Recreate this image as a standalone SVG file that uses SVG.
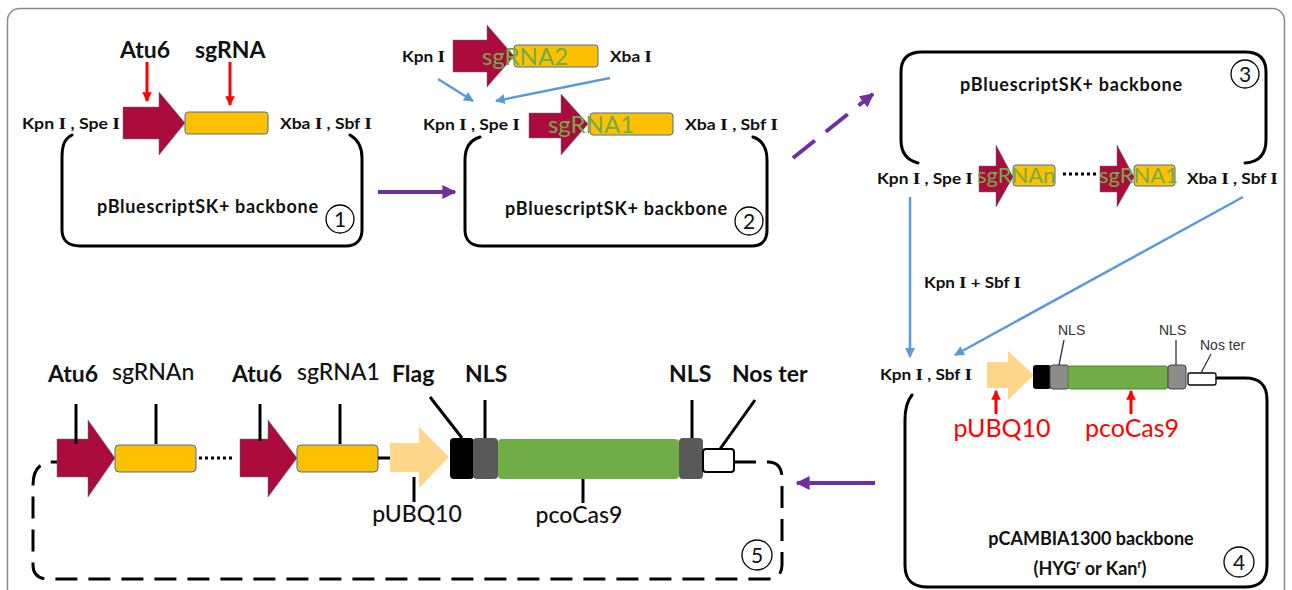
<svg xmlns="http://www.w3.org/2000/svg" width="1292" height="590" viewBox="0 0 1292 590">
  <style>
    text { font-family: Lato, "Liberation Sans", sans-serif; fill: #111; }
    .site { font-size: 15px; font-weight: bold; }
    .roman { font-family: "Liberation Serif", serif; font-weight: bold; font-size: 17px; }
    .bb { font-size: 18px; font-weight: bold; }
    .lbl { font-size: 23px; font-weight: bold; }
    .lblr { font-size: 23px; font-weight: 500; }
    .grn { font-size: 24px; fill: #70AD47; }
    .grn-s { font-size: 22px; fill: #70AD47; }
    .red { font-size: 25px; fill: #FF0000; }
    .tiny { font-family: "Liberation Sans", sans-serif; font-size: 14px; fill: #333; }
    .num { font-size: 21px; text-anchor: middle; }
    .bracket { fill: none; stroke: #000; stroke-width: 3; stroke-linecap: round; }
    .dashed { fill: none; stroke: #000; stroke-width: 3; stroke-dasharray: 22 11; }
    .leader { stroke: #000; stroke-width: 3; }
    .leader-s { stroke: #333; stroke-width: 1.3; }
    .u6 { fill: #AC0C3C; stroke: #41719C; stroke-width: 0.5; }
    .sg { fill: #FFC000; stroke: #41719C; stroke-width: 1; }
    .ubq { fill: #FFD68A; }
    .circ { fill: none; stroke: #000; stroke-width: 1.3; }
    .blue { stroke: #5B9BD5; stroke-width: 2.5; fill: none; }
    .purple { stroke: #7030A0; stroke-width: 4; fill: none; }
    .redln { stroke: #FF0000; stroke-width: 3; fill: none; }
  </style>
  <defs>
    <marker id="mBlue" viewBox="0 0 10 10" refX="9" refY="5" markerWidth="4" markerHeight="4" orient="auto">
      <path d="M0,0 L10,5 L0,10 Z" fill="#5B9BD5"/>
    </marker>
    <marker id="mPurple" viewBox="0 0 10 10" refX="9" refY="5" markerWidth="3.5" markerHeight="3.5" orient="auto">
      <path d="M0,0 L10,5 L0,10 Z" fill="#7030A0"/>
    </marker>
    <marker id="mRed" viewBox="0 0 10 10" refX="9" refY="5" markerWidth="3.2" markerHeight="3.2" orient="auto">
      <path d="M0,0 L10,5 L0,10 Z" fill="#FF0000"/>
    </marker>
  </defs>

  <rect width="1292" height="590" fill="#fff"/>
  <!-- outer frame -->
  <rect x="7.5" y="8.5" width="1277" height="620" rx="12" fill="none" stroke="#8a8a8a" stroke-width="1.5"/>

  <!-- step 1: single sgRNA cassette in pBluescript -->
  <g id="step1">
    <text class="lbl" x="120" y="58">Atu6</text>
    <text class="lbl" x="195" y="58">sgRNA</text>
    <line class="redln" x1="147" y1="62" x2="147" y2="101" marker-end="url(#mRed)"/>
    <line class="redln" x1="230" y1="62" x2="230" y2="105" marker-end="url(#mRed)"/>
    <path class="u6" d="M123,107 H159 V92 L185,123 L159,155 V139 H123 Z"/>
    <rect class="sg" x="185" y="112" width="83" height="22" rx="3"/>
    <text class="site" x="22" y="129" textLength="98" lengthAdjust="spacingAndGlyphs">Kpn <tspan class="roman">I</tspan> , Spe <tspan class="roman">I</tspan></text>
    <text class="site" x="280" y="129" textLength="92" lengthAdjust="spacingAndGlyphs">Xba <tspan class="roman">I</tspan> , Sbf <tspan class="roman">I</tspan></text>
    <path class="bracket" d="M72,135 C64,139 62,146 62,158 V230 C62,240 68,246 80,246 H346 C356,246 362,240 362,230 V158 C362,146 357,139 350,135"/>
    <text class="bb" x="97" y="213" textLength="221">pBluescriptSK+ backbone</text>
    <circle class="circ" cx="340" cy="219" r="14"/>
    <text class="num" x="340" y="227">1</text>
  </g>

  <!-- step 2: second sgRNA cassette inserted -->
  <g id="step2">
    <text class="site" x="402" y="62" textLength="43" lengthAdjust="spacingAndGlyphs">Kpn <tspan class="roman">I</tspan></text>
    <path class="u6" d="M453,40 H487 V25 L514,56 L487,87 V72 H453 Z"/>
    <rect class="sg" x="514" y="45" width="84" height="22" rx="3"/>
    <text class="grn" x="482" y="65">sgRNA2</text>
    <text class="site" x="610" y="62" textLength="42" lengthAdjust="spacingAndGlyphs">Xba <tspan class="roman">I</tspan></text>
    <text class="site" x="423" y="130" textLength="97" lengthAdjust="spacingAndGlyphs">Kpn <tspan class="roman">I</tspan> , Spe <tspan class="roman">I</tspan></text>
    <path class="u6" d="M529,113 H561 V94 L588,124 L561,155 V138 H529 Z"/>
    <rect class="sg" x="590" y="113" width="83" height="22" rx="3"/>
    <text class="grn" x="548" y="133">sgRNA1</text>
    <text class="site" x="685" y="130" textLength="93" lengthAdjust="spacingAndGlyphs">Xba <tspan class="roman">I</tspan> , Sbf <tspan class="roman">I</tspan></text>
    <path class="bracket" d="M480,137 C470,140 465,148 465,160 V230 C465,240 471,246 482,246 H752 C762,246 767,240 767,230 V160 C767,148 762,140 753,137"/>
    <text class="bb" x="505" y="215" textLength="222">pBluescriptSK+ backbone</text>
    <circle class="circ" cx="749" cy="221" r="14"/>
    <text class="num" x="749" y="229">2</text>
  </g>

  <!-- step 3: multiplex sgRNA array -->
  <g id="step3">
    <path class="bracket" d="M918,163 C906,160 901,152 901,140 V72 C901,59 908,52 922,52 H1245 C1259,52 1266,59 1266,72 V140 C1266,154 1260,162 1245,163"/>
    <text class="bb" x="960" y="91" textLength="222">pBluescriptSK+ backbone</text>
    <circle class="circ" cx="1245" cy="74" r="14"/>
    <text class="num" x="1245" y="82">3</text>
    <text class="site" x="877" y="184" textLength="96" lengthAdjust="spacingAndGlyphs">Kpn <tspan class="roman">I</tspan> , Spe <tspan class="roman">I</tspan></text>
    <path class="u6" d="M979,166 H996 V145 L1013,177 L996,207 V192 H979 Z"/>
    <rect class="sg" x="1013" y="165" width="42" height="21" rx="3"/>
    <text class="grn-s" x="977" y="183">sgRNAn</text>
    <line x1="1063" y1="174" x2="1097" y2="174" stroke="#000" stroke-width="3" stroke-dasharray="3 3"/>
    <path class="u6" d="M1100,166 H1117 V145 L1134,177 L1117,207 V192 H1100 Z"/>
    <rect class="sg" x="1134" y="165" width="41" height="21" rx="3"/>
    <text class="grn-s" x="1099" y="183">sgRNA1</text>
    <text class="site" x="1187" y="184" textLength="91" lengthAdjust="spacingAndGlyphs">Xba <tspan class="roman">I</tspan> , Sbf <tspan class="roman">I</tspan></text>
  </g>

  <!-- step 4: Cas9 binary vector -->
  <g id="step4">
    <text class="site" x="880" y="380" textLength="92" lengthAdjust="spacingAndGlyphs">Kpn <tspan class="roman">I</tspan> , Sbf <tspan class="roman">I</tspan></text>
    <path class="ubq" d="M987,362 H1008 V351 L1034,375 L1008,400 V388 H987 Z"/>
    <rect x="1033" y="365" width="18" height="24" rx="3" fill="#000"/>
    <rect x="1050" y="365" width="19" height="24" rx="3" fill="#8c8c8c" stroke="#444" stroke-width="1"/>
    <rect x="1068" y="366" width="100" height="23" rx="3" fill="#70AD47" stroke="#507e33" stroke-width="1"/>
    <rect x="1168" y="365" width="18" height="24" rx="3" fill="#8c8c8c" stroke="#444" stroke-width="1"/>
    <rect x="1188" y="373" width="28" height="12" rx="2" fill="#fff" stroke="#000" stroke-width="1.3"/>
    <text class="tiny" x="1058" y="335">NLS</text>
    <line class="leader-s" x1="1064" y1="340" x2="1059" y2="365"/>
    <text class="tiny" x="1159" y="335">NLS</text>
    <line class="leader-s" x1="1176" y1="340" x2="1176" y2="365"/>
    <text class="tiny" x="1200" y="350">Nos ter</text>
    <line class="leader-s" x1="1211" y1="354" x2="1201" y2="373"/>
    <path class="bracket" d="M912,395 C907,401 905,410 905,420 V565 C905,580 912,587 928,587 H1245 C1260,587 1267,580 1267,565 V400 C1267,385 1260,378 1245,378 H1217"/>
    <line class="redln" x1="996" y1="414" x2="996" y2="391" marker-end="url(#mRed)"/>
    <line class="redln" x1="1131" y1="414" x2="1131" y2="391" marker-end="url(#mRed)"/>
    <text class="red" x="1002" y="437" text-anchor="middle">pUBQ10</text>
    <text class="red" x="1132" y="437" text-anchor="middle">pcoCas9</text>
    <text class="bb" x="1091" y="545" text-anchor="middle">pCAMBIA1300 backbone</text>
    <text class="bb" x="1090" y="575" text-anchor="middle">(HYG<tspan font-size="11" dy="-7">r</tspan><tspan dy="7"> or Kan</tspan><tspan font-size="11" dy="-7">r</tspan><tspan dy="7">)</tspan></text>
    <circle class="circ" cx="1239" cy="562" r="15"/>
    <text class="num" x="1239" y="570">4</text>
  </g>

  <!-- step 5: final multiplex CRISPR/Cas9 construct -->
  <g id="step5">
    <text class="lbl" x="48" y="382">Atu6</text>
    <text class="lblr" x="112" y="380">sgRNAn</text>
    <text class="lbl" x="232" y="382">Atu6</text>
    <text class="lblr" x="297" y="380">sgRNA1</text>
    <text class="lbl" x="392" y="382">Flag</text>
    <text class="lbl" x="465" y="382">NLS</text>
    <text class="lbl" x="669" y="382">NLS</text>
    <text class="lbl" x="732" y="382">Nos ter</text>
    <path class="dashed" d="M734,462 H768 C777,462 782,468 782,478 V565 C782,574 777,579 768,579 H48 C39,579 33,574 33,565 V485 C33,470 40,462 52,462 H57"/>
    <path class="u6" d="M57,439 H88 V420 L115,458 L88,497 V477 H57 Z"/>
    <rect class="sg" x="115" y="445" width="81" height="27" rx="4"/>
    <line x1="199" y1="458" x2="232" y2="458" stroke="#000" stroke-width="3" stroke-dasharray="3 3"/>
    <path class="u6" d="M240,439 H268 V420 L297,458 L268,497 V477 H240 Z"/>
    <rect class="sg" x="297" y="445" width="81" height="27" rx="4"/>
    <line x1="378" y1="458" x2="391" y2="458" stroke="#000" stroke-width="3"/>
    <path class="ubq" d="M390,443 H419 V427 L449,457 L419,488 V472 H390 Z"/>
    <rect x="450" y="438" width="24" height="41" rx="4" fill="#000"/>
    <rect x="473" y="438" width="25" height="41" rx="4" fill="#595959"/>
    <rect x="498" y="439" width="181" height="40" rx="4" fill="#70AD47"/>
    <rect x="679" y="438" width="24" height="41" rx="4" fill="#595959"/>
    <rect x="703" y="449" width="31" height="23" rx="3" fill="#fff" stroke="#000" stroke-width="2"/>
    <line class="leader" x1="76" y1="404" x2="76" y2="444"/>
    <line class="leader" x1="156" y1="404" x2="156" y2="444"/>
    <line class="leader" x1="260" y1="404" x2="260" y2="441"/>
    <line class="leader" x1="340" y1="404" x2="340" y2="444"/>
    <line class="leader" x1="430" y1="397" x2="462" y2="438"/>
    <line class="leader" x1="485" y1="400" x2="485" y2="438"/>
    <line class="leader" x1="692" y1="400" x2="692" y2="438"/>
    <line class="leader" x1="755" y1="400" x2="720" y2="449"/>
    <line class="leader" x1="414" y1="477" x2="414" y2="502"/>
    <line class="leader" x1="583" y1="479" x2="583" y2="503"/>
    <text class="lblr" x="417" y="522" text-anchor="middle">pUBQ10</text>
    <text class="lblr" x="579" y="523" text-anchor="middle">pcoCas9</text>
    <circle class="circ" cx="757" cy="555" r="15"/>
    <text class="num" x="757" y="563">5</text>
  </g>

  <!-- connectors between steps -->
  <g id="connectors">
    <line class="purple" x1="378" y1="192" x2="455" y2="192" marker-end="url(#mPurple)"/>
    <line class="purple" x1="793" y1="158" x2="873" y2="94" stroke-dasharray="28 14" marker-end="url(#mPurple)"/>
    <line class="purple" x1="875" y1="483" x2="797" y2="483" marker-end="url(#mPurple)"/>
    <line class="blue" x1="438" y1="79" x2="473" y2="101" marker-end="url(#mBlue)"/>
    <line class="blue" x1="610" y1="78" x2="496" y2="101" marker-end="url(#mBlue)"/>
    <line class="blue" x1="910" y1="197" x2="910" y2="357" stroke-width="2" marker-end="url(#mBlue)"/>
    <line class="blue" x1="1243" y1="197" x2="955" y2="355" marker-end="url(#mBlue)"/>
    <text class="site" x="924" y="288" textLength="97" lengthAdjust="spacingAndGlyphs">Kpn <tspan class="roman">I</tspan> + Sbf <tspan class="roman">I</tspan></text>
  </g>
</svg>
